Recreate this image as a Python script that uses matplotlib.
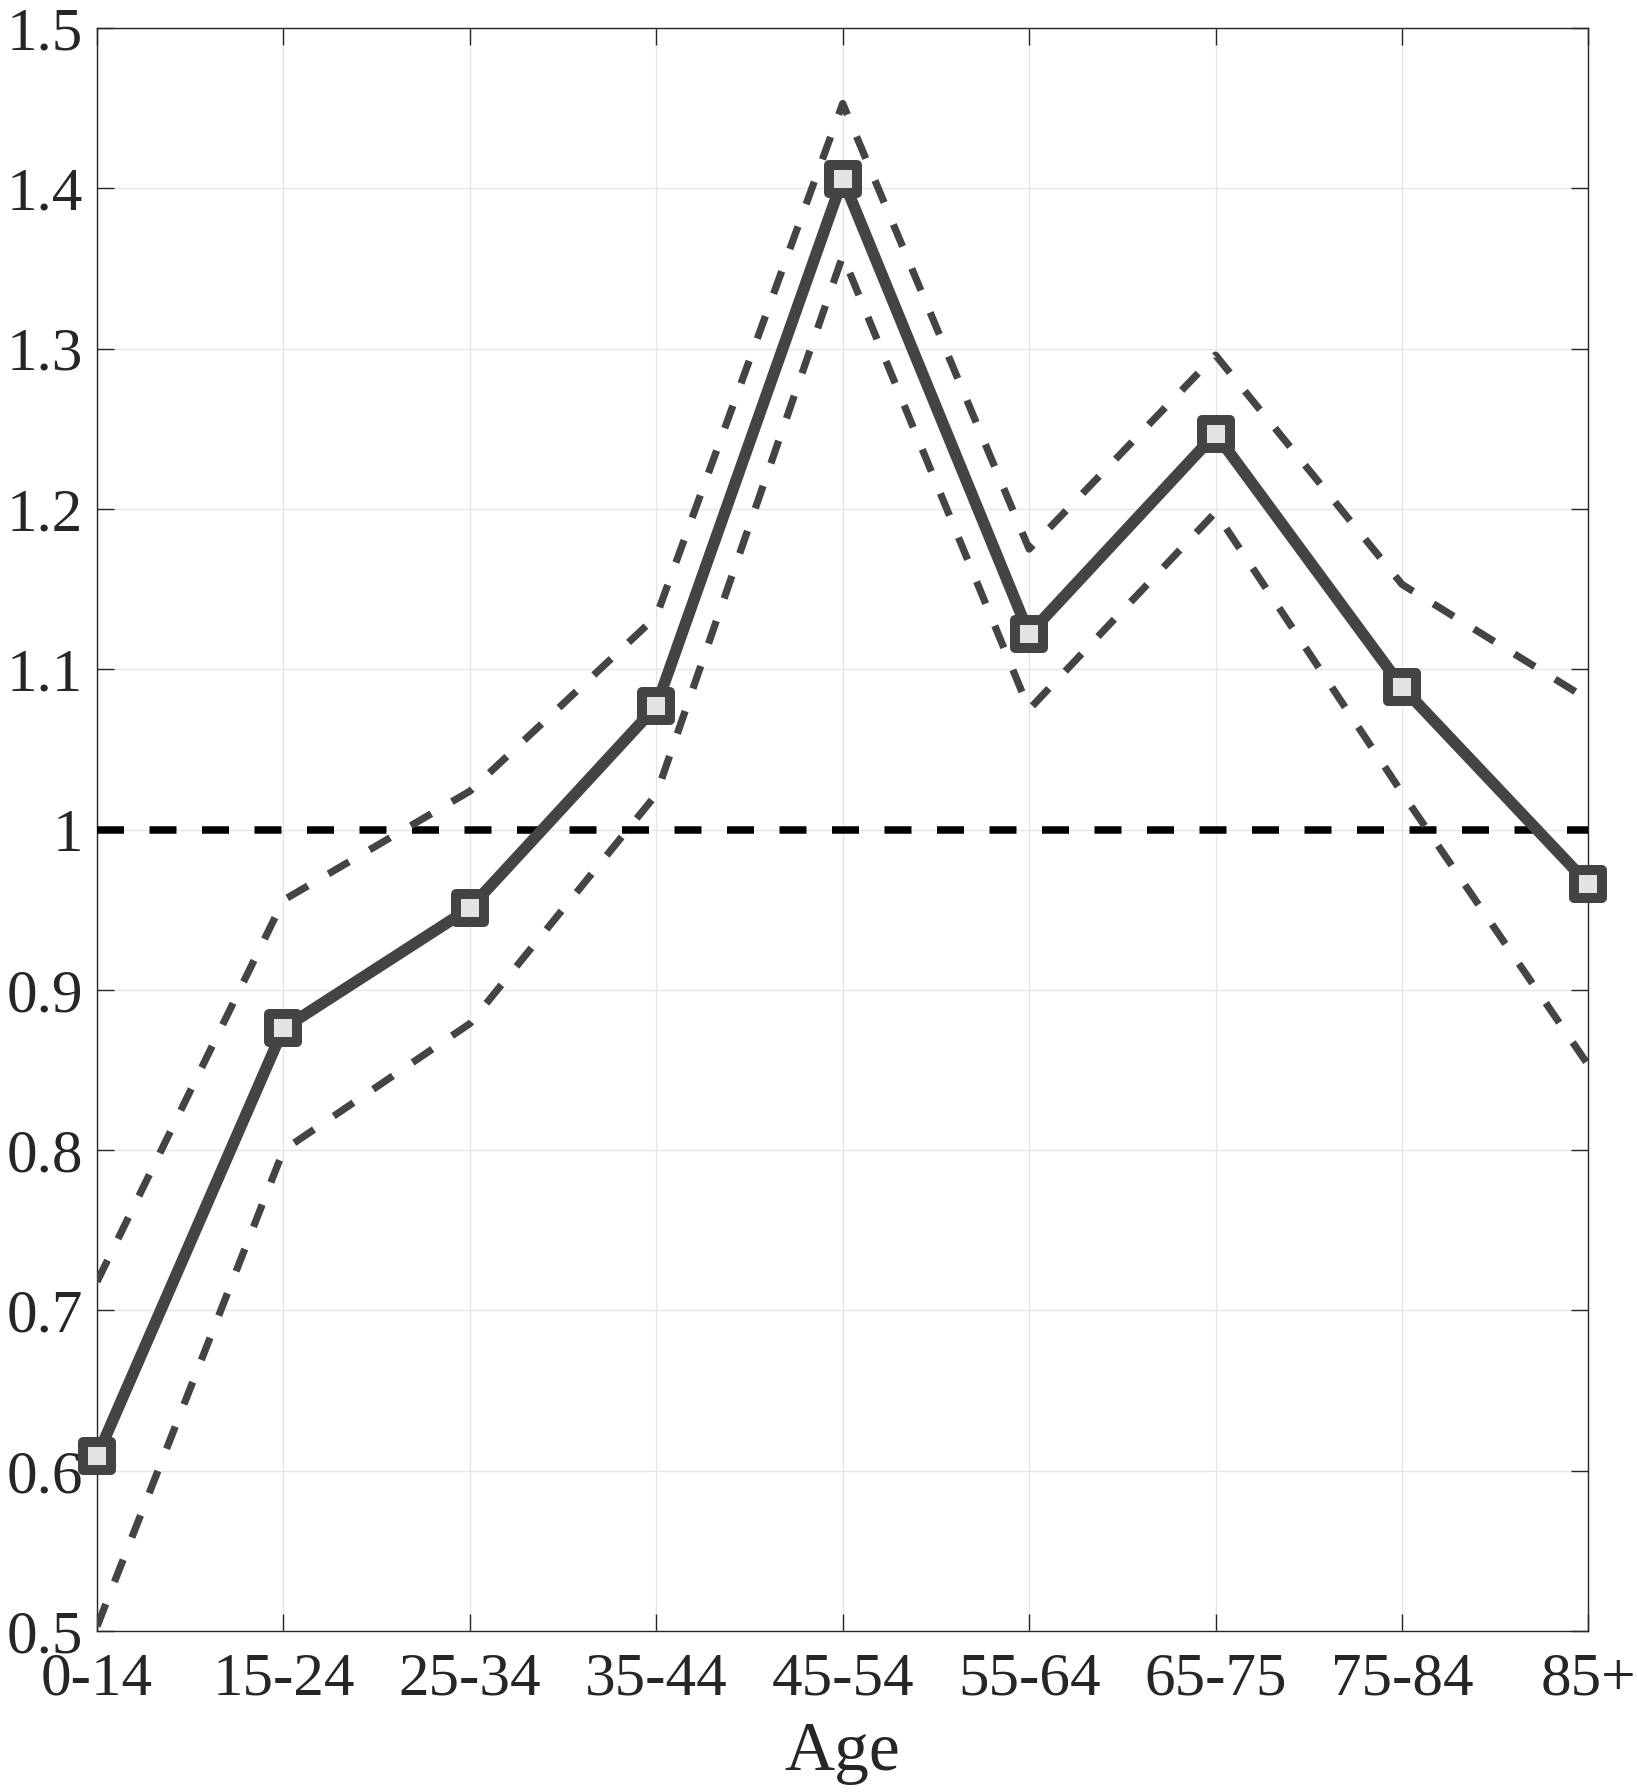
import numpy as np
import matplotlib.pyplot as plt
from matplotlib.markers import MarkerStyle

plt.rcParams['font.family'] = ['Liberation Serif', 'DejaVu Serif']

ages = ['0-14', '15-24', '25-34', '35-44', '45-54', '55-64', '65-75', '75-84', '85+']
ratio = [0.609, 0.876, 0.951, 1.077, 1.406, 1.122, 1.247, 1.089, 0.966]
upper = [0.718, 0.956, 1.024, 1.133, 1.453, 1.175, 1.296, 1.153, 1.081]
lower = [0.503, 0.800, 0.879, 1.022, 1.358, 1.075, 1.198, 1.023, 0.853]
reference = 1.0

line_col = '#444444'
text_col = '#262626'

fig = plt.figure(figsize=(16.37, 17.92), dpi=100)
ax = fig.add_axes([0.0593, 0.0898, 0.911, 0.8945])

x = np.arange(len(ages))

ax.axhline(reference, color='black', lw=5.4, ls=(0, (3.6, 3.4)), zorder=3)
ax.plot(x, upper, color=line_col, lw=5.2, ls=(0, (3.3, 3.3)), zorder=4)
ax.plot(x, lower, color=line_col, lw=5.2, ls=(0, (3.3, 3.3)), zorder=4)
ax.plot(x, ratio, color=line_col, lw=8.3, zorder=5, clip_on=False,
        marker=MarkerStyle('s', joinstyle='round'), markersize=20,
        markeredgewidth=7.2, markerfacecolor='#e3e3e3', markeredgecolor=line_col)

ax.set_xlim(0, len(ages) - 1)
ax.set_ylim(0.5, 1.5)
ax.set_xticks(x)
ax.set_xticklabels(ages)
ax.set_yticks(np.arange(0.5, 1.51, 0.1))
ax.set_yticklabels(['0.5', '0.6', '0.7', '0.8', '0.9', '1', '1.1', '1.2', '1.3', '1.4', '1.5'])

ax.grid(True, color='#e6e6e6', lw=1.0, zorder=0)
ax.set_axisbelow(True)
ax.tick_params(direction='in', length=12, width=1.0, colors=text_col,
               top=True, right=True, labelsize=44)
ax.tick_params(axis='x', pad=15)
ax.tick_params(axis='y', pad=10)
for s in ax.spines.values():
    s.set_color(text_col)
    s.set_linewidth(1.0)

ax.set_xlabel('Age', fontsize=50, color=text_col, labelpad=10)

fig.savefig('out.png', dpi=100)
